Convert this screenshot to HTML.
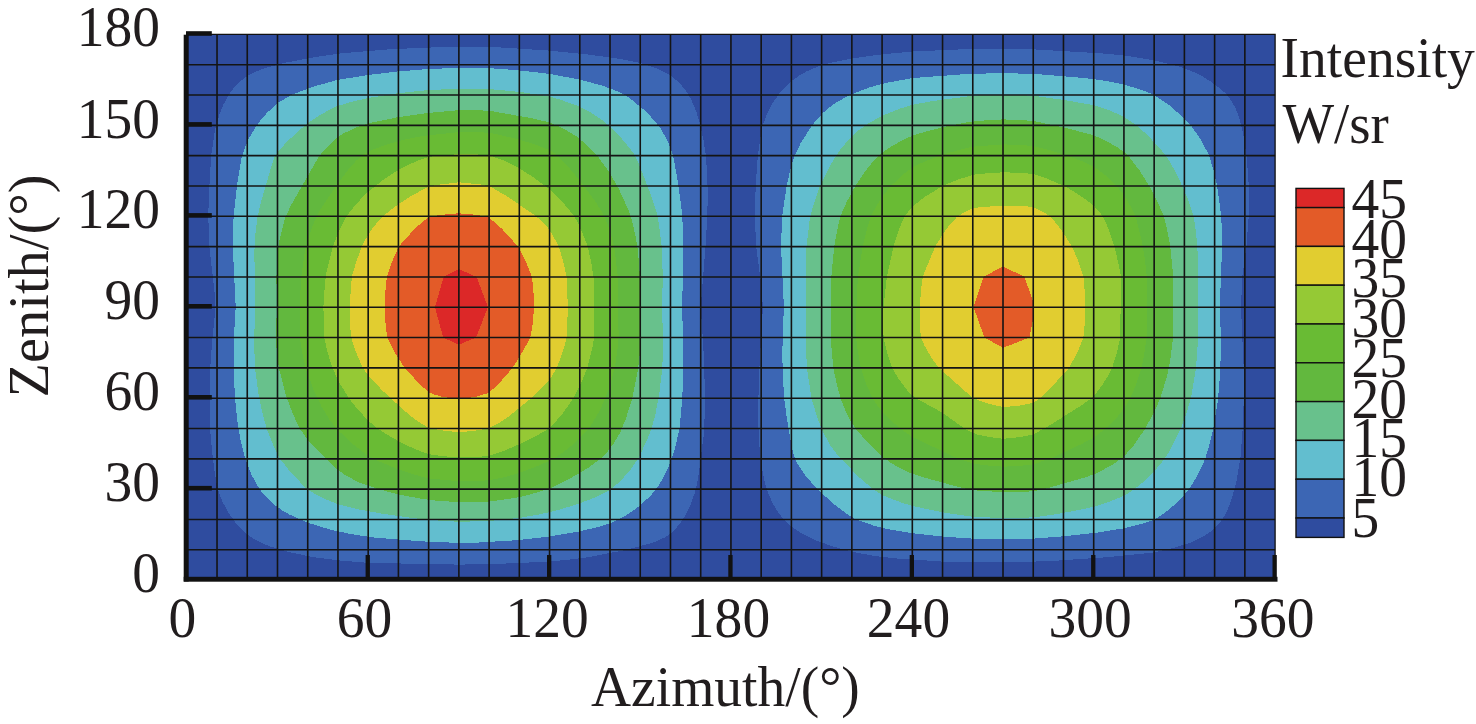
<!DOCTYPE html>
<html><head><meta charset="utf-8"><style>
html,body{margin:0;padding:0;background:#fff;}
svg{display:block;}
</style></head><body>
<svg width="1476" height="724" viewBox="0 0 1476 724">
<rect x="186.8" y="34.4" width="1088.3" height="545.7" fill="#2F4C9F"/>
<g shape-rendering="crispEdges"><path fill="#3C66B4" d="M243.5,531.4 248.8,535.7 254.8,539.6 268.7,546 291.1,552.6 313.8,557.2 338.7,560.4 368.2,562.9 458.9,564.6 491.4,564.1 541.2,562 565.4,560.1 585.8,557.6 621.4,550.8 649.3,543.8 657.6,540.8 664.4,537.6 670.5,533.7 675,529.5 680.8,522.5 686.4,513.6 690.7,504.3 694.5,493.7 696.5,486.1 698.7,474 703.5,436.9 704.8,414.1 704.7,384.6 703.4,347.4 700.7,307.2 705.5,246.6 707.3,216.3 707.7,195.8 707.4,177.6 705.9,155.7 703.4,139.7 700.2,124.6 696.1,110.9 690.9,98.9 685.2,89.7 678.7,82.1 669.7,75 656.1,68.2 640.2,63 620.6,59 588.1,54.5 548,50.5 493.6,47 463.4,46.8 426.4,47.6 388.6,49.4 342.5,53.2 316,56.9 284.3,62.9 263.1,68.7 254.8,72.1 248,75.7 242,80 236.3,85.2 231.8,90.5 227.6,96.6 223.3,104.9 219.6,114 214.9,129.9 211.2,155.7 208.8,196.6 208.3,216.3 209.3,246.6 214.4,290.6 215.6,307.2 212.1,341.4 210.3,367.1 209.6,398.2 210.1,430 212.3,453.5 214.9,474 217.7,489.1 221.9,500.5 227.9,511.9 235.9,523.3ZM787.6,523.2 793.2,527.8 799.7,532.2 814.8,539.9 832.2,546.3 854.9,552.4 876.8,556.3 895.7,558.4 942.5,561.6 972.8,562.5 1014.3,562.3 1052.9,560.9 1107.3,557.2 1153.4,552.5 1175.4,547.5 1191.5,542.2 1205.2,535.4 1210.8,531.5 1215.9,527 1220.6,521.7 1223.7,517.2 1227.6,509.6 1231,501.3 1236.1,483.1 1240.4,458.1 1242.7,428.5 1243.8,398.2 1243.5,364.1 1241,307.2 1242.3,276.9 1246.5,245.9 1248.7,216.3 1248.8,186 1246.7,155.7 1242.8,132.2 1240.1,120.8 1236.1,109.4 1231.6,101.1 1226,93.8 1219.8,88.2 1210.5,81.4 1203.2,76.8 1195,72.6 1179.9,66.7 1154.9,60.5 1127.7,55.9 1103.5,53.5 1034,49.4 1006,48.6 969,49 912.3,51.5 879.8,54.6 852.6,58.4 829.9,63 821.6,65.3 813.3,68.3 805.8,71.8 799,75.8 792.9,80.1 786.1,86 778.7,94.3 772.5,103.4 767,114 762.7,125.3 759.8,141.3 757.7,157.2 755.7,186 754.8,216.3 756.2,246.6 761.2,284.4 762.9,307.2 759.4,367.9 758.4,398.2 758.5,428.5 760.2,458.8 764.4,480.8 766.7,489.1 769.5,496.4 773.3,504.3 777.8,511.7 782.5,518.0Z"/>
<path fill="#62BECF" d="M276,506 282.3,510.4 290.2,514.9 307.7,522.7 330.4,529.7 351.6,534.2 374.2,537.6 422.6,541.4 458.1,542.9 477,542.6 515.6,540.3 546.1,536.9 578.3,531.7 597.9,527 610.4,523.3 624.4,516.4 638.8,506.6 650.3,496 656.1,489.1 659.7,483.8 664.4,475.4 669,465.9 674.8,449 679.6,428.5 682.3,398.2 683.4,367.9 683.3,337.6 681.9,307.2 683.1,275.4 683.4,246.6 682.4,219.3 681.2,205.7 677.3,178 673,155.7 668.4,142.8 661.6,129.9 654.7,120.8 644.4,110.2 630.6,98.8 624.9,95 619,92 603.2,85.9 579.8,79.6 549.6,73.9 519.3,70.4 489.1,68.1 458.9,67.9 428.6,69 398.4,71.4 366.7,75.2 337.2,80 313.8,86.5 291.1,95 277.5,103.1 266.9,113 260.8,120 255.3,127.6 249.8,136.7 245.8,145.1 241.7,157.2 236.9,186 233.6,216.3 232.9,236 232.9,248.9 235.7,307.2 233.9,337.6 233.5,367.9 235,398.2 237.7,424 240.7,440.6 245.3,458.8 251.5,474.7 259.4,489.1 266.9,497.8ZM847.3,514.3 856.2,519.5 874.5,525.9 888.7,529.3 912.3,533.2 942.5,536.6 972.8,538.6 1003,539.2 1035.5,538.5 1063.5,536.3 1097.5,532.6 1123.9,528.3 1144,523.3 1154.7,519.5 1164.7,513 1176.1,503.5 1186.7,492.1 1191.5,485.4 1197,476.3 1201.6,467.2 1205.4,458.1 1209.3,445.1 1213.2,429.3 1217.8,401.2 1219.8,377 1220.7,356.5 1220.9,337.6 1219.8,307.2 1222.1,246.6 1221.5,223.1 1220.2,207.2 1217.1,186 1213.6,170.1 1208.6,154.5 1200.9,139.7 1191.4,126.1 1182.8,117 1169.7,105.6 1154.2,95 1143.6,90.6 1123.9,84.5 1101.3,80.1 1082.4,77.9 1033.2,73.8 1003,73.2 969,73.8 912.3,78.1 885.9,82.9 869.2,87.5 849.6,95 836,102.6 829.2,107.5 823.1,112.8 812,125.3 800.5,143.5 795.7,153.4 793.1,160.2 790.1,170.8 786.7,186 782.1,216.3 781,246.6 783.9,307.2 782.6,337.6 782.4,358 782.8,374.7 784.2,398.2 786.7,417.1 791.4,445.5 794.7,458.1 797.3,463.4 805.8,476.2 817.1,488.9 833.2,503.5Z"/>
<path fill="#68C18C" d="M312.3,492.4 324.3,498.8 338,504.3 358.4,509.3 380.3,513.4 415,518.3 441.5,520.8 458.9,521.8 489.1,521 519.3,517.9 538.2,514.7 558.6,510 579.8,503.3 597.2,496.5 610,490 620.6,480.9 630.1,470.2 639.5,456.3 650.1,432.8 654.8,417.1 659,395.9 662.3,367.9 663.2,344.4 662,307.2 662.8,276.9 661.7,246.6 659.1,225.4 656.4,211.7 650.1,192.8 638,161.7 633.5,153.4 624.8,142 614.2,130.7 603,120.8 591.1,112.6 579,106.3 558.6,99.1 549.6,96.7 540.8,95 519.3,91.9 489.1,89 458.9,88.5 423.9,90.5 398.4,93.2 368.2,98 349.3,102.4 336.5,106.4 320.6,114.5 305,125.3 288.1,140.6 277.5,152 275.2,155.7 272,164 261.3,201.1 257.6,216.3 255.7,230.7 254.3,252.7 255.5,307.2 254,339.8 255,367.9 258.6,395.2 262.3,412.6 266.6,428.5 274.1,447.5 280.2,458.8 290.2,471.7 303.9,486.1 307.2,489.1ZM902.5,503 916.1,506.8 944.8,512.7 972,516.7 1003.8,518.1 1033.2,517.4 1053.6,514.6 1077.1,510.4 1093.7,506.8 1108.1,502.2 1123.4,496 1131.5,491.2 1142.8,482.5 1154,471.7 1164.1,459.6 1170.3,449.7 1180.6,429.1 1187.2,411.1 1191.5,395.2 1196,367.9 1198.2,337.6 1197.9,307.2 1198.3,276.9 1197.4,246.6 1195.2,226.1 1193.1,214.8 1187.2,197.3 1177.4,175.4 1168.5,159.6 1160.3,148.8 1146.6,134.3 1136,125.1 1123.9,116.8 1109.6,110.4 1093.7,105.2 1063.5,99.9 1033.2,95.7 1003,94.8 974.3,95.6 933.5,100.9 912.3,104.8 901,108.3 882.1,115.8 868.5,123.4 858,130.7 849.6,138.4 839.7,150.4 831.9,162.5 820.1,185.8 813.1,205.7 809.8,218.6 806.5,246.6 805.7,274.7 806.5,307.2 805.6,337.6 806.9,367.9 811.5,398.2 817.1,416.9 823.1,432.3 830.2,445.2 838.8,456.6 858.9,477 873,489.1 882.8,495.4Z"/>
<path fill="#62B83E" d="M378.2,489.1 398.4,494.4 422.6,499 436.2,500.6 458.9,502.2 489.1,501.5 508,499 522.4,496.5 538.2,492.2 550.3,488.2 569.2,479 588.1,467.9 600.4,458.8 607.8,451.4 614.1,442.9 620.7,431.5 625.9,418.6 632.3,398.2 638.2,368.6 639.9,352 640.8,337.6 639.9,307.2 640,276.9 638,251.2 636,238.3 631.7,219.3 628.2,209.5 619.1,189.5 609.3,172.1 597.2,155.7 587.3,145.5 576.8,136.6 562.4,128 549.6,122.4 530.7,118 489.1,110.7 477,110.3 458.9,110.2 428.6,112.9 398.4,117.1 368.2,123.4 354.6,128.1 343.2,133.6 336.4,138.1 327.4,146.7 319.6,155.7 316.7,160.2 290.7,205.7 285,218.3 279.5,239.8 277.6,253.4 276.4,276.9 276.9,307.2 275.8,337.6 276.4,347.4 278.8,367.9 286.1,395.9 292.6,413.4 299.7,428.5 307.7,439.7 318.3,451.3 335.7,468 345.5,475.4 359.1,482.4ZM1028.7,491.5 1034.8,490.9 1048.4,487.9 1086.3,477 1098.2,472.5 1113.5,464.1 1123.9,456.6 1133.3,445.9 1144.8,429.3 1153.9,412.6 1160.4,398.2 1167,376.2 1170,361.8 1173,337.6 1173.3,292.8 1172.7,270.9 1170.3,246.6 1167.2,229.9 1163.9,216.3 1157.9,202.7 1149.3,186 1139.8,170.8 1129.9,157.9 1123.9,151.9 1116.2,146.6 1105.8,140.7 1093.7,135.3 1068.8,128.7 1034.8,121.2 1021.1,120 1003,119.4 981.1,120.7 967.5,122.3 942.5,127.2 916.9,134.1 905.5,138.6 892.7,145.6 882.1,152.8 874.2,160.2 864.9,171.6 855.4,186 846.7,201.9 840.4,216.3 837.2,229.9 834.2,246.6 831.3,276.9 830.5,337.6 833.3,367.9 836.7,383.8 840.5,398.2 845.4,410.3 850.3,420.4 855.4,428.5 859.2,433.1 882.1,456.7 891.7,463.4 902.5,469.4 912.3,473.8 922.9,477.1 955.4,486.2 972.8,490.2 1003,492.3Z"/>
<path fill="#69BB34" d="M428.6,478.4 458.9,481.3 489.1,480.4 503.5,477.4 519.3,472.9 541.2,464.6 553.4,458.8 564.5,451.3 575.3,442.4 584.8,433.1 590.9,425.5 598.6,412.6 605.5,398.2 610,385.3 614.7,367.9 617.1,352.7 618.6,337.6 617.9,276.9 614.2,246.6 610,231 604.5,216.3 595.2,201.1 579.8,180.7 566.6,164.8 556.6,154.9 549.6,150.2 534.4,144.2 514.8,138.4 491.4,133.1 478.5,132.1 458.9,132.1 424.1,135.8 404.1,139.7 389.9,143.5 373.5,149.3 368.2,151.6 363.6,154.4 355.9,161 347,171.1 328.1,197.6 319.1,211.6 315.8,217.8 310.7,230.9 305.9,246.6 304.3,255 300.9,279.2 299.9,307.2 299.9,337.6 302.2,352.7 305.5,367.9 313.9,390.6 321.9,407.3 329.6,419.7 338,430.2 353.3,444.4 367.4,455.3 379.5,461.6 398.4,469.4 414.3,474.6ZM972.8,463.6 986.4,465.4 1003,466.7 1019.6,465.9 1033.2,464.4 1052.1,457.8 1080.9,444.4 1093.7,437.7 1103.5,430.2 1111.1,423.4 1119.4,414.5 1125.4,406.5 1130.3,398.2 1135.7,385.3 1141.6,367.9 1143.4,358.8 1146.7,337.6 1146.9,276.9 1144.3,255 1141.2,238.3 1135.8,217.1 1131.9,208.7 1123.9,195 1116.7,186 1105.5,175.4 1093.7,166.6 1082.4,161.4 1067.2,155.7 1047.6,149.6 1033.2,146 1019.6,144.9 1003,144.4 972.8,146.7 956.9,150.5 939.6,155.7 924.4,161.6 912.3,167.5 902,175.4 891.9,185 883.6,195.1 878.4,202.7 870.8,216.3 866.9,229.2 862.6,246.6 857.8,277.7 856.4,307.2 856,337.6 858,352.7 860.8,367.9 866.2,384 872.5,398.2 880.8,410.3 887.2,417.1 899.5,428 911.6,436.6 956.2,457.8Z"/>
<path fill="#95C935" d="M428.6,454.2 441.5,456 458.9,457.5 476.3,457 489.1,455.8 502.7,451.3 519.3,444.3 536,436.1 547.8,429.3 553.3,424.3 561.5,414.9 569.2,404.5 575,395.2 580.8,383.8 587.4,367.9 592.1,348.9 594.1,337.6 593.5,276.9 591.1,261.8 587.7,246.6 582.5,233 577.5,222.3 574.2,216.3 566.9,207.1 557.9,197.2 548.8,188.5 532.9,177 517.8,167.4 503.3,160.2 489.1,155.3 476.3,154.4 458.9,154.1 439.2,155.6 428.6,157 417,161 405.2,166.3 396.1,171.3 383.3,179.8 365.9,193.7 355.3,205 346.5,216.3 339.1,230.7 333.1,245.9 326.4,272.4 324.9,283.8 323.4,307.2 324.3,337.6 327.5,352 332,367.1 339.5,383 348.9,398.2 356,407.3 368.2,420.7 376.5,427.7 387.1,434.7 400.7,442.4 415,449.1ZM989.4,437.1 1003,438.8 1019.6,437.2 1033.2,434.4 1048.3,426.2 1080.9,405.7 1090.5,399 1094.5,395.2 1101.5,386.1 1107.3,377 1112.1,367.9 1116.9,352.7 1120.2,337.6 1121,276.9 1118.6,264.3 1114.5,246.6 1108.6,229.2 1102.9,216.3 1093.7,205.4 1084.6,198.6 1074.1,191.7 1064.2,186 1044.6,177.7 1033.2,174 1020.4,172.8 1003,172.3 985.6,173.4 972.8,174.8 958.4,179.5 942.5,185.9 924.4,197.2 912.3,206.8 905.7,214.8 903.5,218.6 898.7,230.2 893.5,246.6 886.8,276.9 883.5,307.2 883.2,323.9 883.6,337.6 886.7,351.2 892.1,367.9 897.8,377.7 907,390.1 912.3,395.6 916,398.2 942.5,412.8 961,426.2 970.5,432 977.3,434.5Z"/>
<path fill="#E1CD30" d="M458.9,432.2 474,430.9 489.1,428.2 496.7,424.4 509.9,415.6 531.2,398.2 547.4,382.3 550.9,377.7 556.7,367.9 561.2,356.5 565,344.4 567,334.5 567.8,307.2 566.7,276.9 563.5,262.5 558.8,246.6 552.4,234.5 547.1,226.9 541.2,220.8 535.2,215.5 506.5,196 492.9,188.1 489.1,186.3 480.8,184.5 458.9,182.3 437,184.9 428.6,186.7 412.8,195 398.4,204.2 383.6,215.5 378,221.4 370.7,230.7 365.9,238.5 361.8,246.6 356.1,262.4 351.8,276.9 349.5,307.2 350.3,328.5 351.8,339.8 356.1,352.4 361.5,364.8 365.2,371.1 370.4,378.1 382.5,390.6 404,410.3 413.1,417.9 421.9,424 428.6,427.7 432.4,428.7 444.5,430.8ZM1003,407 1016.6,406 1027.9,404.1 1033.2,402.7 1040.2,398.2 1051,387.6 1069,367.9 1077.3,352.7 1083.4,337.6 1084.6,325.4 1085.2,307.2 1084.3,283.8 1083.6,276.9 1077.3,258.7 1072,246.6 1061.3,229.9 1053.4,220.1 1049.8,216.3 1042.8,211.7 1033.2,207 1019.6,205.7 1003,205.5 978.8,207.3 971.6,208.7 964.5,212.2 957.7,216.3 951.7,222.4 945.6,229.9 935.2,246.6 924.4,272.4 922.9,276.9 921.7,284.5 919.5,307.2 919.7,323.9 920.9,337.6 924.6,345.9 931.6,358 938.8,367.9 972.8,398 986.4,403.2Z"/>
<path fill="#E35B28" d="M458.9,399.2 476.3,396.8 489.1,392.7 499.7,382.7 512.6,367.9 523.4,350.4 530.3,337.6 532.5,324.7 534.1,307.2 533.4,290.6 532,276.9 526,261.8 518.1,246.6 501.9,228.8 489.1,217.6 477.8,214.9 458.9,213.3 440,214.9 428.6,217.4 421.8,222.5 414.3,229.3 398.7,246.6 392.4,261 386.8,276.9 385.5,289.8 384.7,307.2 385.6,324.7 387.3,337.6 394.9,352.7 404.6,367.9 418.7,383 428.6,392.3 435.4,394.9 442.2,396.8ZM1003,347.8 1029.4,337.6 1033.2,318.8 1033.7,307.2 1033.2,301.9 1024.5,276.9 1003,266.4 983.4,276.9 973.6,307.2 984.4,337.6Z"/>
<path fill="#DC2828" d="M458.9,344.6 475.9,337.6 488,307.2 476.6,276.9 458.9,269.1 443.7,276.9 434.9,307.2 443.2,337.6Z"/></g>
<path d="M217.03,34.4V580.1M247.26,34.4V580.1M277.49,34.4V580.1M307.72,34.4V580.1M337.95,34.4V580.1M368.18,34.4V580.1M398.41,34.4V580.1M428.64,34.4V580.1M458.87,34.4V580.1M489.10,34.4V580.1M519.33,34.4V580.1M549.56,34.4V580.1M579.79,34.4V580.1M610.02,34.4V580.1M640.25,34.4V580.1M670.48,34.4V580.1M700.71,34.4V580.1M730.94,34.4V580.1M761.17,34.4V580.1M791.40,34.4V580.1M821.63,34.4V580.1M851.86,34.4V580.1M882.09,34.4V580.1M912.32,34.4V580.1M942.55,34.4V580.1M972.78,34.4V580.1M1003.01,34.4V580.1M1033.24,34.4V580.1M1063.47,34.4V580.1M1093.70,34.4V580.1M1123.93,34.4V580.1M1154.16,34.4V580.1M1184.39,34.4V580.1M1214.62,34.4V580.1M1244.85,34.4V580.1M186.8,549.78H1275.1M186.8,519.47H1275.1M186.8,489.15H1275.1M186.8,458.83H1275.1M186.8,428.52H1275.1M186.8,398.20H1275.1M186.8,367.88H1275.1M186.8,337.56H1275.1M186.8,307.25H1275.1M186.8,276.93H1275.1M186.8,246.61H1275.1M186.8,216.30H1275.1M186.8,185.98H1275.1M186.8,155.66H1275.1M186.8,125.35H1275.1M186.8,95.03H1275.1M186.8,64.71H1275.1" stroke="#141414" stroke-width="1.6" fill="none"/>
<path d="M186.8,34.4H1275.1V580.1" stroke="#111" stroke-width="1.3" fill="none"/>
<rect x="183.7" y="34.7" width="5" height="546.8" fill="#111"/>
<rect x="183.7" y="576.8" width="1093.8" height="4.9" fill="#111"/>
<rect x="186" y="485.9" width="25.8" height="4.6" fill="#111"/>
<rect x="186" y="395.0" width="25.8" height="4.6" fill="#111"/>
<rect x="186" y="304.0" width="25.8" height="4.6" fill="#111"/>
<rect x="186" y="213.1" width="25.8" height="4.6" fill="#111"/>
<rect x="186" y="122.1" width="25.8" height="4.6" fill="#111"/>
<rect x="186" y="31.2" width="25.8" height="4.6" fill="#111"/>
<rect x="365.6" y="555" width="4.3" height="24" fill="#111"/>
<rect x="547.0" y="555" width="4.3" height="24" fill="#111"/>
<rect x="728.3" y="555" width="4.3" height="24" fill="#111"/>
<rect x="909.7" y="555" width="4.3" height="24" fill="#111"/>
<rect x="1091.1" y="555" width="4.3" height="24" fill="#111"/>
<rect x="1272.5" y="555" width="4.3" height="24" fill="#111"/>
<rect x="1296" y="188.4" width="48" height="19.2" fill="#DC2828" stroke="#111" stroke-width="1.4"/>
<rect x="1296" y="207.6" width="48" height="38.8" fill="#E35B28" stroke="#111" stroke-width="1.4"/>
<rect x="1296" y="246.4" width="48" height="38.8" fill="#E1CD30" stroke="#111" stroke-width="1.4"/>
<rect x="1296" y="285.2" width="48" height="38.8" fill="#95C935" stroke="#111" stroke-width="1.4"/>
<rect x="1296" y="324.0" width="48" height="38.8" fill="#69BB34" stroke="#111" stroke-width="1.4"/>
<rect x="1296" y="362.8" width="48" height="38.8" fill="#62B83E" stroke="#111" stroke-width="1.4"/>
<rect x="1296" y="401.6" width="48" height="38.8" fill="#68C18C" stroke="#111" stroke-width="1.4"/>
<rect x="1296" y="440.4" width="48" height="38.8" fill="#62BECF" stroke="#111" stroke-width="1.4"/>
<rect x="1296" y="479.2" width="48" height="38.8" fill="#3C66B4" stroke="#111" stroke-width="1.4"/>
<rect x="1296" y="518.0" width="48" height="19.4" fill="#2F4C9F" stroke="#111" stroke-width="1.4"/>
<g font-family="Liberation Serif, serif" font-size="55.5" fill="#211d1e"><text transform="translate(160.1,45.7) scale(0.974,1)" font-size="57" text-anchor="end">180</text>
<text transform="translate(160.1,137.6) scale(0.974,1)" font-size="57" text-anchor="end">150</text>
<text transform="translate(160.1,228.1) scale(0.974,1)" font-size="57" text-anchor="end">120</text>
<text transform="translate(160.1,319.0) scale(0.974,1)" font-size="57" text-anchor="end">90</text>
<text transform="translate(160.1,409.5) scale(0.974,1)" font-size="57" text-anchor="end">60</text>
<text transform="translate(160.1,500.6) scale(0.974,1)" font-size="57" text-anchor="end">30</text>
<text transform="translate(160.1,591.5) scale(0.974,1)" font-size="57" text-anchor="end">0</text>
<text transform="translate(182.3,637.2) scale(0.974,1)" font-size="57" text-anchor="middle">0</text>
<text transform="translate(364.6,637.2) scale(0.974,1)" font-size="57" text-anchor="middle">60</text>
<text transform="translate(547.1,637.2) scale(0.974,1)" font-size="57" text-anchor="middle">120</text>
<text transform="translate(728.5,637.2) scale(0.974,1)" font-size="57" text-anchor="middle">180</text>
<text transform="translate(908.5,637.2) scale(0.974,1)" font-size="57" text-anchor="middle">240</text>
<text transform="translate(1090.2,637.2) scale(0.974,1)" font-size="57" text-anchor="middle">300</text>
<text transform="translate(1272.8,637.2) scale(0.974,1)" font-size="57" text-anchor="middle">360</text>
<text transform="translate(591,705.9) scale(0.974,1)" font-size="57">Azimuth/(°)</text>
<text transform="translate(47.6,397.4) rotate(-90)" font-size="56.4">Zenith/(°)</text>
<text transform="translate(1280.6,77.2) scale(0.974,1)" font-size="57">Intensity</text>
<text transform="translate(1282.4,143) scale(0.96,1)" font-size="57">W/sr</text>
<text transform="translate(1351.5,218.0) scale(0.974,1)" font-size="57">45</text>
<text transform="translate(1351.5,257.6) scale(0.974,1)" font-size="57">40</text>
<text transform="translate(1351.5,296.6) scale(0.974,1)" font-size="57">35</text>
<text transform="translate(1351.5,336.8) scale(0.974,1)" font-size="57">30</text>
<text transform="translate(1351.5,377.3) scale(0.974,1)" font-size="57">25</text>
<text transform="translate(1351.5,418.3) scale(0.974,1)" font-size="57">20</text>
<text transform="translate(1351.5,457.0) scale(0.974,1)" font-size="57">15</text>
<text transform="translate(1351.5,496.2) scale(0.974,1)" font-size="57">10</text>
<text transform="translate(1351.5,536.7) scale(0.974,1)" font-size="57">5</text></g>
</svg>
</body></html>
